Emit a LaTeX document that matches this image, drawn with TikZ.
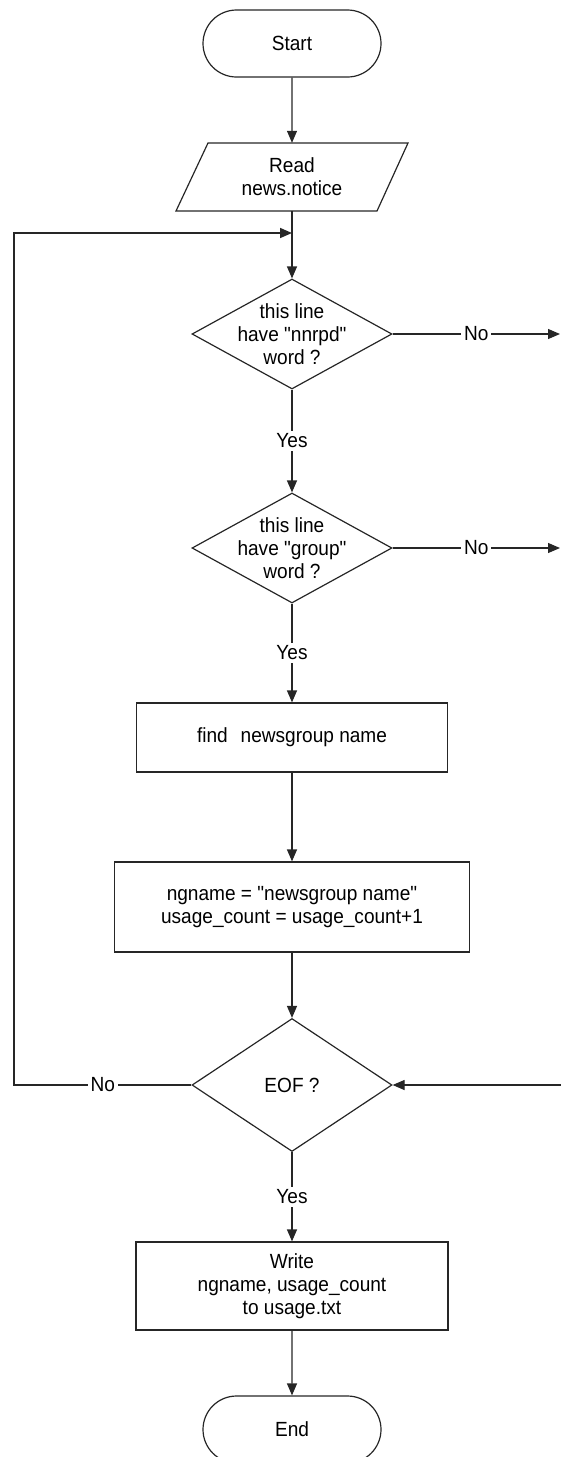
\documentclass[tikz,border=0pt]{standalone}
\usepackage{fontspec}
\newfontfamily\flowfont{Liberation Sans}[FakeStretch=0.93]
\usetikzlibrary{shapes.geometric,shapes.misc,arrows.meta}
\begin{document}
\begin{tikzpicture}[x=1pt,y=-1pt,
  font=\flowfont\fontsize{20.5}{23}\selectfont,
  line/.style={draw=black!85, line width=1.2pt},
  arr/.style={line, -{Triangle[length=12pt,width=10pt]}},
  term/.style={rounded rectangle, draw=black!85, line width=1.2pt, minimum width=178pt, minimum height=67pt, inner sep=0pt},
  proc/.style={rectangle, draw=black!85, line width=1.2pt, align=center, inner sep=0pt},
  dec/.style={diamond, draw=black!85, line width=1.2pt, minimum width=200pt, minimum height=110pt, inner sep=0pt},
  txt/.style={align=center, inner sep=0pt},
  lbl/.style={fill=white, inner sep=3pt}
]
\useasboundingbox (0,0) rectangle (561,1457);
\clip (0,0) rectangle (561,1457);

% nodes
\node[term] (start) at (292,43.5) {Start};
\node[txt, minimum width=200pt, minimum height=68pt] (read) at (292,177) {Read\\news.notice};
\draw[line] (176,211) -- (208,143) -- (408,143) -- (377,211) -- cycle;
\coordinate (join) at (292,233);
\node[dec] (d1) at (292,334) {};
\node[txt] (d1t) at (d1) {this line\\have "nnrpd"\\word ?};
\node[dec] (d2) at (292,548) {};
\node[txt] (d2t) at (d2) {this line\\have "group"\\word ?};
\node[proc, minimum width=311pt, minimum height=69pt] (find) at (292,737.5) {find\hspace{13pt}newsgroup name};
\node[proc, minimum width=355pt, minimum height=90pt] (upd) at (292,907) {ngname = "newsgroup name"\\usage\_count = usage\_count+1};
\node[dec, minimum height=133pt] (eof) at (292,1085) {};
\node[txt] (eoft) at (eof) {EOF ?};
\node[proc, minimum width=312pt, minimum height=88pt] (write) at (292,1286) {Write\\ngname, usage\_count\\to usage.txt};
\node[term] (end) at (292,1429.5) {End};

\coordinate (r1) at (560,334);
\coordinate (r2) at (560,548);
\coordinate (r3) at (561,1085);
\coordinate (l1) at (14,1085);
\coordinate (l2) at (14,233);

% connectors
\draw[arr] (start) -- (read.north);
\draw[arr] (read.south) -- (d1.north);
\draw[arr] (d1.east) -- node[lbl]{No} (r1);
\draw[arr] (d1.south) -- node[lbl]{Yes} (d2.north);
\draw[arr] (d2.east) -- node[lbl]{No} (r2);
\draw[arr] (d2.south) -- node[lbl]{Yes} (find.north);
\draw[arr] (find) -- (upd);
\draw[arr] (upd) -- (eof.north);
\draw[arr] (r3) -- (eof.east);
\draw[arr] (eof.south) -- node[lbl]{Yes} (write.north);
\draw[arr] (write) -- (end);
\draw[arr, line width=1.6pt] (eof.west) -- node[lbl]{No} (l1) -- (l2) -- (join);
\end{tikzpicture}
\end{document}
